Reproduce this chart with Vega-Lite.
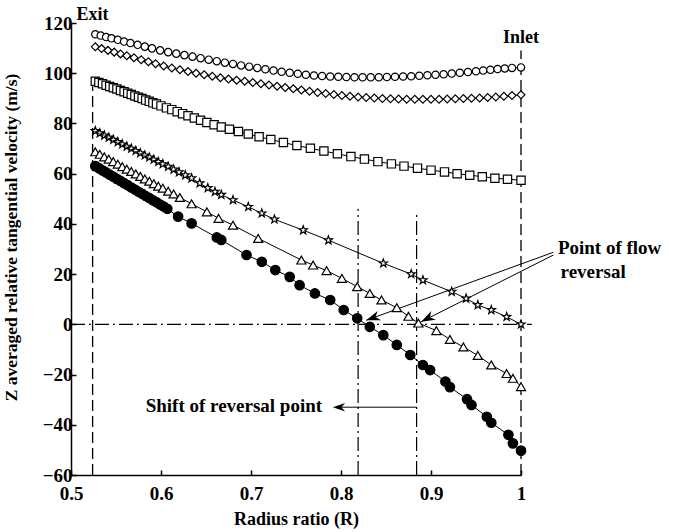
{
  "$schema": "https://vega.github.io/schema/vega-lite/v6.json",
  "autosize": {"type": "none"},
  "width": 450,
  "height": 452,
  "padding": {"left": 71, "top": 23, "right": 155, "bottom": 57},
  "background": "white",
  "config": {"view": {"stroke": null}, "font": "Liberation Serif"},
  "datasets": {
    "series": [
      {"s":"a","x":0.527,"y":115.5},{"s":"a","x":0.533,"y":115.0},{"s":"a","x":0.539,"y":114.4},{"s":"a","x":0.545,"y":113.9},{"s":"a","x":0.552,"y":113.3},{"s":"a","x":0.559,"y":112.6},{"s":"a","x":0.566,"y":112.0},{"s":"a","x":0.574,"y":111.3},{"s":"a","x":0.582,"y":110.6},{"s":"a","x":0.59,"y":109.9},{"s":"a","x":0.599,"y":109.1},{"s":"a","x":0.608,"y":108.4},{"s":"a","x":0.617,"y":107.8},{"s":"a","x":0.626,"y":107.2},{"s":"a","x":0.635,"y":106.6},{"s":"a","x":0.644,"y":106.0},{"s":"a","x":0.653,"y":105.4},{"s":"a","x":0.662,"y":104.8},{"s":"a","x":0.671,"y":104.2},{"s":"a","x":0.68,"y":103.7},{"s":"a","x":0.689,"y":103.1},{"s":"a","x":0.698,"y":102.6},{"s":"a","x":0.707,"y":102.1},{"s":"a","x":0.716,"y":101.6},{"s":"a","x":0.725,"y":101.1},{"s":"a","x":0.734,"y":100.6},{"s":"a","x":0.743,"y":100.2},{"s":"a","x":0.752,"y":99.8},{"s":"a","x":0.761,"y":99.4},{"s":"a","x":0.77,"y":99.1},{"s":"a","x":0.779,"y":98.9},{"s":"a","x":0.788,"y":98.7},{"s":"a","x":0.797,"y":98.6},{"s":"a","x":0.806,"y":98.5},{"s":"a","x":0.815,"y":98.4},{"s":"a","x":0.824,"y":98.4},{"s":"a","x":0.833,"y":98.4},{"s":"a","x":0.842,"y":98.4},{"s":"a","x":0.851,"y":98.5},{"s":"a","x":0.86,"y":98.6},{"s":"a","x":0.869,"y":98.7},{"s":"a","x":0.878,"y":98.8},{"s":"a","x":0.887,"y":99.0},{"s":"a","x":0.896,"y":99.2},{"s":"a","x":0.905,"y":99.4},{"s":"a","x":0.914,"y":99.6},{"s":"a","x":0.923,"y":99.9},{"s":"a","x":0.932,"y":100.2},{"s":"a","x":0.941,"y":100.5},{"s":"a","x":0.95,"y":100.8},{"s":"a","x":0.958,"y":101.1},{"s":"a","x":0.966,"y":101.4},{"s":"a","x":0.974,"y":101.7},{"s":"a","x":0.982,"y":101.9},{"s":"a","x":0.99,"y":102.1},{"s":"a","x":1.0,"y":102.3},
      {"s":"b","x":0.527,"y":110.5},{"s":"b","x":0.534,"y":109.8},{"s":"b","x":0.541,"y":109.1},{"s":"b","x":0.548,"y":108.4},{"s":"b","x":0.555,"y":107.7},{"s":"b","x":0.562,"y":107.0},{"s":"b","x":0.57,"y":106.2},{"s":"b","x":0.578,"y":105.4},{"s":"b","x":0.586,"y":104.6},{"s":"b","x":0.594,"y":103.8},{"s":"b","x":0.603,"y":102.9},{"s":"b","x":0.612,"y":102.1},{"s":"b","x":0.621,"y":101.4},{"s":"b","x":0.63,"y":100.7},{"s":"b","x":0.639,"y":100.0},{"s":"b","x":0.648,"y":99.4},{"s":"b","x":0.657,"y":98.8},{"s":"b","x":0.666,"y":98.2},{"s":"b","x":0.675,"y":97.7},{"s":"b","x":0.684,"y":97.2},{"s":"b","x":0.693,"y":96.8},{"s":"b","x":0.702,"y":96.3},{"s":"b","x":0.711,"y":95.8},{"s":"b","x":0.72,"y":95.3},{"s":"b","x":0.729,"y":94.8},{"s":"b","x":0.738,"y":94.3},{"s":"b","x":0.747,"y":93.8},{"s":"b","x":0.756,"y":93.3},{"s":"b","x":0.765,"y":92.8},{"s":"b","x":0.774,"y":92.3},{"s":"b","x":0.783,"y":91.9},{"s":"b","x":0.792,"y":91.5},{"s":"b","x":0.801,"y":91.1},{"s":"b","x":0.81,"y":90.8},{"s":"b","x":0.819,"y":90.5},{"s":"b","x":0.828,"y":90.3},{"s":"b","x":0.837,"y":90.1},{"s":"b","x":0.846,"y":89.9},{"s":"b","x":0.855,"y":89.8},{"s":"b","x":0.864,"y":89.7},{"s":"b","x":0.873,"y":89.6},{"s":"b","x":0.882,"y":89.6},{"s":"b","x":0.891,"y":89.6},{"s":"b","x":0.9,"y":89.6},{"s":"b","x":0.909,"y":89.6},{"s":"b","x":0.918,"y":89.7},{"s":"b","x":0.927,"y":89.8},{"s":"b","x":0.936,"y":89.9},{"s":"b","x":0.945,"y":90.0},{"s":"b","x":0.954,"y":90.1},{"s":"b","x":0.963,"y":90.3},{"s":"b","x":0.972,"y":90.5},{"s":"b","x":0.981,"y":90.8},{"s":"b","x":0.99,"y":91.1},{"s":"b","x":1.0,"y":91.4},
      {"s":"c","x":0.527,"y":96.8},{"s":"c","x":0.531,"y":96.3},{"s":"c","x":0.535,"y":95.8},{"s":"c","x":0.539,"y":95.2},{"s":"c","x":0.543,"y":94.7},{"s":"c","x":0.547,"y":94.2},{"s":"c","x":0.551,"y":93.7},{"s":"c","x":0.555,"y":93.1},{"s":"c","x":0.559,"y":92.6},{"s":"c","x":0.563,"y":92.0},{"s":"c","x":0.567,"y":91.5},{"s":"c","x":0.571,"y":90.9},{"s":"c","x":0.575,"y":90.4},{"s":"c","x":0.579,"y":89.9},{"s":"c","x":0.583,"y":89.3},{"s":"c","x":0.587,"y":88.8},{"s":"c","x":0.591,"y":88.2},{"s":"c","x":0.595,"y":87.7},{"s":"c","x":0.6,"y":87.0},{"s":"c","x":0.606,"y":86.2},{"s":"c","x":0.612,"y":85.5},{"s":"c","x":0.618,"y":84.7},{"s":"c","x":0.624,"y":83.9},{"s":"c","x":0.63,"y":83.1},{"s":"c","x":0.637,"y":82.2},{"s":"c","x":0.644,"y":81.3},{"s":"c","x":0.651,"y":80.4},{"s":"c","x":0.659,"y":79.5},{"s":"c","x":0.667,"y":78.6},{"s":"c","x":0.676,"y":77.7},{"s":"c","x":0.686,"y":76.8},{"s":"c","x":0.697,"y":75.8},{"s":"c","x":0.709,"y":74.7},{"s":"c","x":0.722,"y":73.6},{"s":"c","x":0.736,"y":72.4},{"s":"c","x":0.751,"y":71.2},{"s":"c","x":0.766,"y":70.1},{"s":"c","x":0.781,"y":69.0},{"s":"c","x":0.796,"y":67.9},{"s":"c","x":0.811,"y":66.8},{"s":"c","x":0.826,"y":65.8},{"s":"c","x":0.841,"y":64.8},{"s":"c","x":0.856,"y":63.9},{"s":"c","x":0.87,"y":63.0},{"s":"c","x":0.885,"y":62.2},{"s":"c","x":0.9,"y":61.4},{"s":"c","x":0.915,"y":60.7},{"s":"c","x":0.929,"y":60.0},{"s":"c","x":0.943,"y":59.4},{"s":"c","x":0.957,"y":58.8},{"s":"c","x":0.971,"y":58.2},{"s":"c","x":0.985,"y":57.8},{"s":"c","x":1.0,"y":57.4},
      {"s":"d","x":0.527,"y":77.0},{"s":"d","x":0.532,"y":76.1},{"s":"d","x":0.537,"y":75.2},{"s":"d","x":0.542,"y":74.4},{"s":"d","x":0.547,"y":73.5},{"s":"d","x":0.552,"y":72.6},{"s":"d","x":0.557,"y":71.7},{"s":"d","x":0.562,"y":70.8},{"s":"d","x":0.567,"y":70.0},{"s":"d","x":0.572,"y":69.1},{"s":"d","x":0.577,"y":68.2},{"s":"d","x":0.582,"y":67.3},{"s":"d","x":0.587,"y":66.5},{"s":"d","x":0.592,"y":65.6},{"s":"d","x":0.597,"y":64.7},{"s":"d","x":0.602,"y":63.8},{"s":"d","x":0.608,"y":62.8},{"s":"d","x":0.614,"y":61.7},{"s":"d","x":0.62,"y":60.6},{"s":"d","x":0.627,"y":59.4},{"s":"d","x":0.634,"y":58.2},{"s":"d","x":0.643,"y":56.2},{"s":"d","x":0.652,"y":54.3},{"s":"d","x":0.66,"y":52.8},{"s":"d","x":0.667,"y":51.6},{"s":"d","x":0.68,"y":49.5},{"s":"d","x":0.697,"y":46.8},{"s":"d","x":0.712,"y":44.2},{"s":"d","x":0.726,"y":41.8},{"s":"d","x":0.758,"y":37.5},{"s":"d","x":0.786,"y":33.5},{"s":"d","x":0.847,"y":24.3},{"s":"d","x":0.878,"y":20.0},{"s":"d","x":0.891,"y":17.6},{"s":"d","x":0.923,"y":13.0},{"s":"d","x":0.939,"y":10.3},{"s":"d","x":0.952,"y":7.7},{"s":"d","x":0.967,"y":5.7},{"s":"d","x":0.984,"y":3.0},{"s":"d","x":1.0,"y":0.0},
      {"s":"e","x":0.527,"y":68.7},{"s":"e","x":0.532,"y":67.7},{"s":"e","x":0.537,"y":66.7},{"s":"e","x":0.542,"y":65.8},{"s":"e","x":0.547,"y":64.8},{"s":"e","x":0.552,"y":63.8},{"s":"e","x":0.557,"y":62.8},{"s":"e","x":0.562,"y":61.8},{"s":"e","x":0.567,"y":60.9},{"s":"e","x":0.572,"y":59.9},{"s":"e","x":0.577,"y":58.9},{"s":"e","x":0.582,"y":57.9},{"s":"e","x":0.587,"y":57.0},{"s":"e","x":0.592,"y":56.0},{"s":"e","x":0.597,"y":55.0},{"s":"e","x":0.602,"y":54.2},{"s":"e","x":0.608,"y":53.0},{"s":"e","x":0.614,"y":51.9},{"s":"e","x":0.621,"y":50.5},{"s":"e","x":0.634,"y":48.0},{"s":"e","x":0.651,"y":44.8},{"s":"e","x":0.664,"y":42.2},{"s":"e","x":0.68,"y":39.5},{"s":"e","x":0.708,"y":34.2},{"s":"e","x":0.756,"y":25.6},{"s":"e","x":0.769,"y":23.6},{"s":"e","x":0.784,"y":21.4},{"s":"e","x":0.801,"y":18.3},{"s":"e","x":0.818,"y":15.0},{"s":"e","x":0.832,"y":12.3},{"s":"e","x":0.845,"y":9.7},{"s":"e","x":0.862,"y":6.6},{"s":"e","x":0.875,"y":3.2},{"s":"e","x":0.886,"y":0.5},{"s":"e","x":0.906,"y":-2.5},{"s":"e","x":0.921,"y":-6.0},{"s":"e","x":0.936,"y":-9.0},{"s":"e","x":0.952,"y":-12.4},{"s":"e","x":0.967,"y":-16.2},{"s":"e","x":0.984,"y":-19.6},{"s":"e","x":0.991,"y":-21.5},{"s":"e","x":1.0,"y":-24.8},
      {"s":"f","x":0.527,"y":63.0},{"s":"f","x":0.531,"y":62.2},{"s":"f","x":0.535,"y":61.3},{"s":"f","x":0.539,"y":60.5},{"s":"f","x":0.543,"y":59.6},{"s":"f","x":0.547,"y":58.8},{"s":"f","x":0.551,"y":57.9},{"s":"f","x":0.555,"y":57.1},{"s":"f","x":0.559,"y":56.2},{"s":"f","x":0.563,"y":55.4},{"s":"f","x":0.567,"y":54.5},{"s":"f","x":0.571,"y":53.7},{"s":"f","x":0.575,"y":52.8},{"s":"f","x":0.579,"y":52.0},{"s":"f","x":0.583,"y":51.1},{"s":"f","x":0.587,"y":50.3},{"s":"f","x":0.591,"y":49.4},{"s":"f","x":0.595,"y":48.6},{"s":"f","x":0.599,"y":47.7},{"s":"f","x":0.603,"y":46.9},{"s":"f","x":0.607,"y":46.0},{"s":"f","x":0.619,"y":42.9},{"s":"f","x":0.634,"y":40.2},{"s":"f","x":0.662,"y":34.6},{"s":"f","x":0.667,"y":33.6},{"s":"f","x":0.695,"y":27.6},{"s":"f","x":0.712,"y":24.9},{"s":"f","x":0.727,"y":21.6},{"s":"f","x":0.743,"y":18.9},{"s":"f","x":0.754,"y":15.6},{"s":"f","x":0.771,"y":12.3},{"s":"f","x":0.788,"y":9.7},{"s":"f","x":0.803,"y":5.7},{"s":"f","x":0.818,"y":2.4},{"s":"f","x":0.832,"y":-1.0},{"s":"f","x":0.847,"y":-4.3},{"s":"f","x":0.862,"y":-8.2},{"s":"f","x":0.877,"y":-12.2},{"s":"f","x":0.891,"y":-16.2},{"s":"f","x":0.899,"y":-18.2},{"s":"f","x":0.916,"y":-22.8},{"s":"f","x":0.921,"y":-25.0},{"s":"f","x":0.94,"y":-29.8},{"s":"f","x":0.945,"y":-32.1},{"s":"f","x":0.962,"y":-36.8},{"s":"f","x":0.967,"y":-39.2},{"s":"f","x":0.986,"y":-44.0},{"s":"f","x":0.991,"y":-47.4},{"s":"f","x":1.0,"y":-50.3}
    ],
    "ends": [{"x":0.524,"y":-60,"y2":97},{"x":1.0,"y":-60,"y2":109}],
    "reversal": [{"x":0.819,"y":-60,"y2":46},{"x":0.884,"y":-60,"y2":43.5}],
    "zero": [{"x":0.5,"x2":1.012,"y":0}],
    "arrows": [{"x":1.036,"y":28.7,"x2":0.828,"y2":1.6},{"x":1.036,"y":27.6,"x2":0.889,"y2":1.0},{"x":0.884,"y":-33,"x2":0.795,"y2":-33}],
    "centerText": [{"t":"Exit","x":0.524,"y":123},{"t":"Inlet","x":1.0,"y":114.2}],
    "leftText": [{"t":"Point of flow","x":1.041,"y":30.2},{"t":"reversal","x":1.044,"y":20.9}],
    "rightText": [{"t":"Shift of reversal point","x":0.779,"y":-32.5}]
  },
  "encoding": {
    "x": {
      "field": "x", "type": "quantitative",
      "scale": {"domain": [0.5, 1.0], "nice": false, "zero": false},
      "axis": {
        "values": [0.5, 0.6, 0.7, 0.8, 0.9, 1.0],
        "labelExpr": "datum.value == 1 ? '1' : format(datum.value, '.1f')",
        "labelFlush": false,
        "grid": false, "tickSize": -5, "tickWidth": 1.5, "tickColor": "black",
        "domainColor": "black", "domainWidth": 1.5,
        "labelFont": "Liberation Serif", "labelFontWeight": "bold", "labelFontSize": 19, "labelColor": "black", "labelPadding": 14,
        "title": "Radius ratio (R)", "titleFont": "Liberation Serif", "titleFontWeight": "bold", "titleFontSize": 18, "titleColor": "black",
        "titleY": 44, "titleBaseline": "middle"
      }
    },
    "y": {
      "field": "y", "type": "quantitative",
      "scale": {"domain": [-60, 120], "nice": false, "zero": false},
      "axis": {
        "values": [-60, -40, -20, 0, 20, 40, 60, 80, 100, 120],
        "labelFlush": false,
        "grid": false, "tickSize": -5, "tickWidth": 1.5, "tickColor": "black",
        "domainColor": "black", "domainWidth": 1.5,
        "labelFont": "Liberation Serif", "labelFontWeight": "bold", "labelFontSize": 19, "labelColor": "black", "labelPadding": 4,
        "title": "Z averaged relative tangential velocity (m/s)", "titleFont": "Liberation Serif", "titleFontWeight": "bold", "titleFontSize": 17.5, "titleColor": "black",
        "titleX": -60, "titleY": 214, "titleAngle": -90, "titleAlign": "center", "titleBaseline": "middle"
      }
    }
  },
  "layer": [
    {"data": {"name": "ends"}, "mark": {"type": "rule", "color": "black", "strokeWidth": 1.3, "strokeDash": [11, 5]}, "encoding": {"y2": {"field": "y2"}}},
    {"data": {"name": "reversal"}, "mark": {"type": "rule", "color": "black", "strokeWidth": 1.2, "strokeDash": [14, 4, 2, 4]}, "encoding": {"y2": {"field": "y2"}}},
    {"data": {"name": "zero"}, "mark": {"type": "rule", "color": "black", "strokeWidth": 1.2, "strokeDash": [14, 4, 2, 4]}, "encoding": {"x2": {"field": "x2"}}},
    {"data": {"name": "arrows"}, "mark": {"type": "rule", "color": "black", "strokeWidth": 1}, "encoding": {"x2": {"field": "x2"}, "y2": {"field": "y2"}}},
    {"data": {"name": "series"}, "mark": {"type": "line", "color": "black", "strokeWidth": 1}, "encoding": {"detail": {"field": "s"}}},
    {"data": {"name": "series"}, "mark": {"type": "point", "filled": true, "opacity": 1, "stroke": "black", "strokeWidth": 1.2},
      "encoding": {
        "shape": {"field": "s", "type": "nominal", "legend": null, "scale": {"domain": ["a","b","c","d","e","f"], "range": ["circle", "diamond", "square", "M0,-1L0.235,-0.324L0.951,-0.309L0.38,0.124L0.588,0.809L0,0.4L-0.588,0.809L-0.38,0.124L-0.951,-0.309L-0.235,-0.324Z", "triangle-up", "circle"]}},
        "size": {"field": "s", "type": "nominal", "legend": null, "scale": {"domain": ["a","b","c","d","e","f"], "range": [54, 90, 45, 120, 81, 106]}},
        "fill": {"field": "s", "type": "nominal", "legend": null, "scale": {"domain": ["a","b","c","d","e","f"], "range": ["white","white","white","white","white","black"]}}
      }},
    {"data": {"values": [{"x": 0.828, "y": 1.6}]}, "mark": {"type": "point", "shape": "M0,0L0.7,2L0,1.4L-0.7,2Z", "size": 196, "angle": 250, "filled": true, "fill": "black", "opacity": 1, "strokeWidth": 0}},
    {"data": {"values": [{"x": 0.889, "y": 1.0}]}, "mark": {"type": "point", "shape": "M0,0L0.7,2L0,1.4L-0.7,2Z", "size": 196, "angle": 243, "filled": true, "fill": "black", "opacity": 1, "strokeWidth": 0}},
    {"data": {"values": [{"x": 0.791, "y": -33}]}, "mark": {"type": "point", "shape": "M0,0L0.7,2L0,1.4L-0.7,2Z", "size": 150, "angle": 270, "filled": true, "fill": "black", "opacity": 1, "strokeWidth": 0}},
    {"data": {"name": "centerText"}, "mark": {"type": "text", "font": "Liberation Serif", "fontWeight": "bold", "fontSize": 18, "align": "center", "baseline": "middle", "color": "black"}, "encoding": {"text": {"field": "t"}}},
    {"data": {"name": "leftText"}, "mark": {"type": "text", "font": "Liberation Serif", "fontWeight": "bold", "fontSize": 19, "align": "left", "baseline": "middle", "color": "black"}, "encoding": {"text": {"field": "t"}}},
    {"data": {"name": "rightText"}, "mark": {"type": "text", "font": "Liberation Serif", "fontWeight": "bold", "fontSize": 19, "align": "right", "baseline": "middle", "color": "black"}, "encoding": {"text": {"field": "t"}}}
  ]
}
